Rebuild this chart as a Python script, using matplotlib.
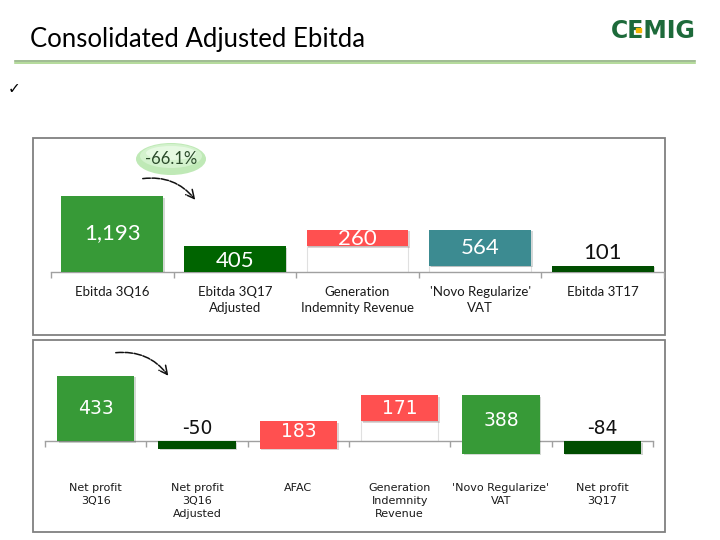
import matplotlib
matplotlib.use("Agg")
import matplotlib.pyplot as plt
from matplotlib.patches import Rectangle, Ellipse, FancyArrowPatch
import matplotlib.patheffects as pe

# ---------------- data ----------------
top_labels = ["Ebitda 3Q16", "Ebitda 3Q17\nAdjusted", "Generation\nIndemnity Revenue",
              "'Novo Regularize'\nVAT", "Ebitda 3T17"]
top_values = [1193, 405, 260, 564, 101]
top_kinds = ["total", "total", "up", "down", "total"]
top_texts = ["1,193", "405", "260", "564", "101"]
top_colors = ["#379a37", "#006400", "#ff5050", "#3c8b91", "#004d00"]

bot_labels = ["Net profit\n3Q16", "Net profit\n3Q16\nAdjusted", "AFAC",
              "Generation\nIndemnity\nRevenue", "'Novo Regularize'\nVAT", "Net profit\n3Q17"]
bot_values = [433, -50, 183, 171, 388, -84]
bot_kinds = ["total", "total", "up", "up", "down", "total"]
bot_texts = ["433", "-50", "183", "171", "388", "-84"]
bot_colors = ["#379a37", "#004d00", "#ff5050", "#ff5050", "#379a37", "#004d00"]

change_text = "-66.1%"
title = "Consolidated Adjusted Ebitda"

CAL = ["Lato", "DejaVu Sans"]
VER = ["DejaVu Sans"]

def waterfall(values, kinds):
    bottoms, heights = [], []
    level = 0
    for v, k in zip(values, kinds):
        if k == "total":
            bottoms.append(0)
            heights.append(v)
            level = v
        elif k == "up":
            bottoms.append(level)
            heights.append(v)
            level += v
        else:
            level -= v
            bottoms.append(level)
            heights.append(v)
    return bottoms, heights

W, H = 720, 540
fig = plt.figure(figsize=(7.2, 5.4), dpi=100)

def fax(x0, y0, x1, y1, **kw):
    return fig.add_axes([x0 / W, 1 - y1 / H, (x1 - x0) / W, (y1 - y0) / H], **kw)

# background axes (pixel coords)
bg = fax(0, 0, W, H, zorder=0)
bg.set_xlim(0, W); bg.set_ylim(H, 0); bg.axis("off")
bg.add_patch(Rectangle((33, 138), 632, 197, fill=False, ec="#808080", lw=1.3))
bg.add_patch(Rectangle((33, 340), 632, 192, fill=False, ec="#808080", lw=1.3))
bg.plot([15, 695], [60.5, 60.5], color="#8fb07f", lw=1.2)
bg.plot([15, 695], [63, 63], color="#a8d48a", lw=1.2)
bg.text(30, 39, title, fontsize=18.5, family=CAL, va="center", ha="left", color="#000000")
bg.text(8, 89, "\u2713", fontsize=11, family=["DejaVu Sans"], va="center", ha="left")
# logo
bg.text(653, 31, "CEMIG", fontsize=17, family=["DejaVu Sans"], fontweight="bold",
        color="#1d6a3a", va="center", ha="center")
bg.add_patch(Rectangle((636, 27.5), 5, 4, color="#f2b705", zorder=5))

shadow = [pe.SimplePatchShadow(offset=(1.2, -1.2), alpha=0.18), pe.Normal()]

def draw_chart(ax, labels, values, kinds, texts, colors, width, scale, fam, vfs,
               lfs, lab_off, linesp, inside_shift):
    n = len(values)
    bottoms, heights = waterfall(values, kinds)
    xs = list(range(n))
    for i in xs:
        if kinds[i] != "total" and bottoms[i] > 0:
            ax.bar(i, bottoms[i], bottom=0, width=width, color="white",
                   edgecolor="#e0e0e0", lw=0.8, zorder=2)
        b = ax.bar(i, heights[i], bottom=bottoms[i], width=width, color=colors[i],
                   lw=0, zorder=3)
        for p in b:
            p.set_path_effects(shadow)
    for i in xs:
        top = bottoms[i] + heights[i]
        outside = kinds[i] == "total" and (abs(heights[i]) * scale < 14)
        if outside:
            base = max(top, 0)
            ax.annotate(texts[i], xy=(i, base), xytext=(0, 2), textcoords="offset points",
                        ha="center", va="bottom", fontsize=vfs, family=fam,
                        color="#111111", zorder=5)
        else:
            yc = bottoms[i] + heights[i] / 2
            ax.annotate(texts[i], xy=(i, yc), xytext=(0, inside_shift[i]),
                        textcoords="offset points", ha="center", va="center",
                        fontsize=vfs, family=fam, color="white", zorder=5)
        ax.annotate(labels[i], xy=(i, 0), xytext=(0, -lab_off), textcoords="offset points",
                    ha="center", va="top", fontsize=lfs, family=fam, color="#1a1a1a",
                    linespacing=linesp, annotation_clip=False)
    ax.set_xlim(-0.5, n - 0.5)
    for s in ["top", "right", "left"]:
        ax.spines[s].set_visible(False)
    ax.spines["bottom"].set_position(("data", 0))
    ax.spines["bottom"].set_color("#a0a0a0")
    ax.spines["bottom"].set_linewidth(1.0)
    ax.set_yticks([])
    ax.set_xticks([x - 0.5 for x in range(n + 1)])
    ax.set_xticklabels([])
    ax.tick_params(axis="x", length=4, color="#a0a0a0", direction="out", width=1.0)
    ax.patch.set_alpha(0)

# top chart
s1 = 75.7 / 1193.0
ax1 = fax(51, 150, 664, 272, zorder=2)
ax1.set_ylim(0, 122 / s1)
draw_chart(ax1, top_labels, top_values, top_kinds, top_texts, top_colors, 0.83, s1,
           CAL, 16, 9.5, 10, 1.45, [1, -1, -1, 0, 0])

# bottom chart
s2 = 0.151
ax2 = fax(45, 350, 653, 460, zorder=2)
ax2.set_ylim(-(460 - 441) / s2, (441 - 350) / s2)
draw_chart(ax2, bot_labels, bot_values, bot_kinds, bot_texts, bot_colors, 0.76, s2,
           VER, 13.5, 8, 30, 1.38, [0, 0, 2, 0, 3, 0])

# overlay
ov = fax(0, 0, W, H, zorder=6)
ov.set_xlim(0, W); ov.set_ylim(H, 0); ov.axis("off"); ov.patch.set_alpha(0)
ov.add_patch(Ellipse((171, 159), 70, 32, fc="#bfe9b6", ec="none"))
ov.add_patch(Ellipse((171, 156), 62, 24, fc="#d3f2cd", ec="none"))
ov.add_patch(Ellipse((171, 153), 50, 14, fc="#e6f9e2", ec="none"))
ov.text(171, 159, change_text, fontsize=12, family=CAL, color="#2a4a2a",
        ha="center", va="center")
for (x0, y0, x1, y1) in [(140, 179, 197, 202), (113, 353, 170, 378)]:
    ov.add_patch(FancyArrowPatch((x0, y0), (x1, y1), connectionstyle="arc3,rad=-0.3",
                                 arrowstyle="->,head_length=6,head_width=3",
                                 color="#111111", lw=1.1, linestyle=(0, (5, 1))))

fig.savefig("out.png", dpi=100)
